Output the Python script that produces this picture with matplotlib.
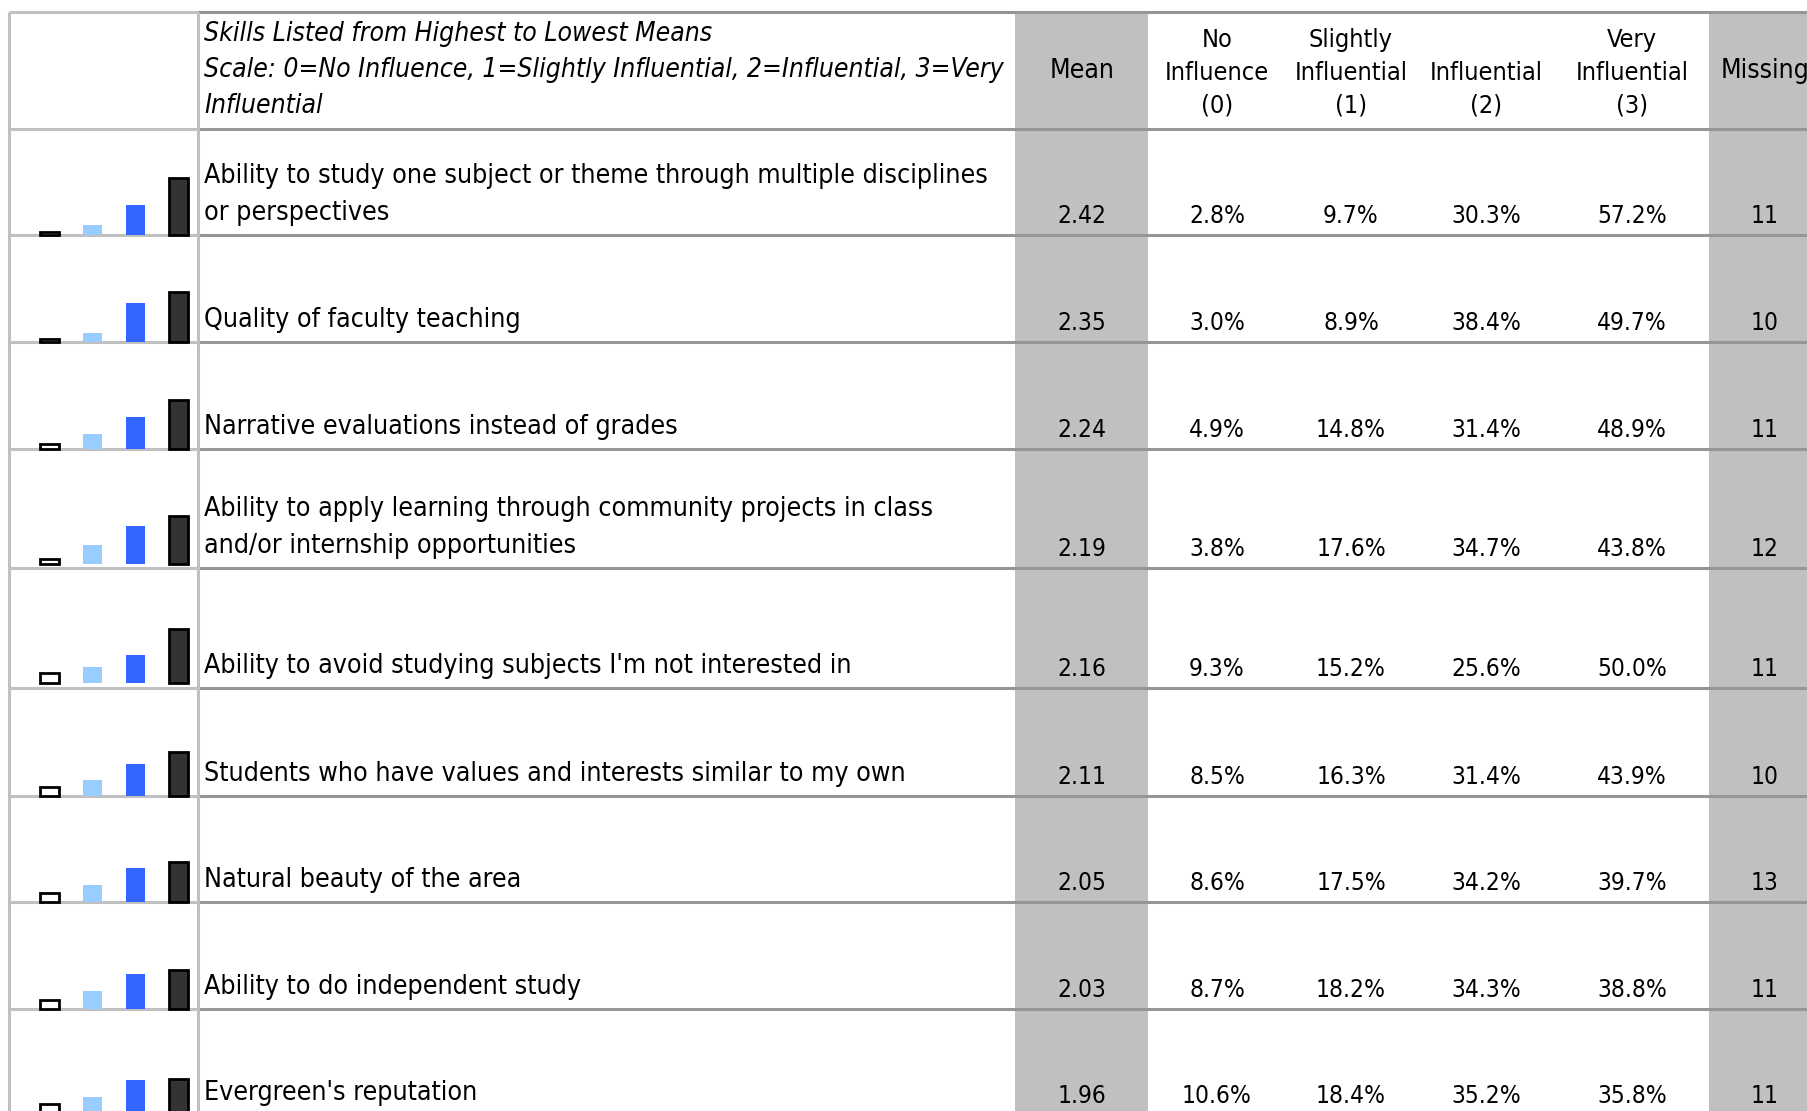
import matplotlib
matplotlib.use("Agg")
import matplotlib.pyplot as plt
from matplotlib import font_manager

skills = [
    "Ability to study one subject or theme through multiple disciplines\nor perspectives",
    "Quality of faculty teaching",
    "Narrative evaluations instead of grades",
    "Ability to apply learning through community projects in class\nand/or internship opportunities",
    "Ability to avoid studying subjects I'm not interested in",
    "Students who have values and interests similar to my own",
    "Natural beauty of the area",
    "Ability to do independent study",
    "Evergreen's reputation",
]
means = [2.42, 2.35, 2.24, 2.19, 2.16, 2.11, 2.05, 2.03, 1.96]
no_infl = [2.8, 3.0, 4.9, 3.8, 9.3, 8.5, 8.6, 8.7, 10.6]
slightly = [9.7, 8.9, 14.8, 17.6, 15.2, 16.3, 17.5, 18.2, 18.4]
influential = [30.3, 38.4, 31.4, 34.7, 25.6, 31.4, 34.2, 34.3, 35.2]
very = [57.2, 49.7, 48.9, 43.8, 50.0, 43.9, 39.7, 38.8, 35.8]
missing = [11, 10, 11, 12, 11, 10, 13, 11, 11]

note_lines = ["Skills Listed from Highest to Lowest Means",
              "Scale: 0=No Influence, 1=Slightly Influential, 2=Influential, 3=Very",
              "Influential"]
col_heads = ["Mean", "No\nInfluence\n(0)", "Slightly\nInfluential\n(1)",
             "Influential\n(2)", "Very\nInfluential\n(3)", "Missing"]

# layout (pixels)
W, H = 1808, 1111
x_left, x_chart = 9, 198
col_edges = [1015, 1148, 1286, 1420, 1554, 1709, 1830]
col_cent = [1082, 1217, 1351, 1486, 1632, 1765]
y_top, y_head = 12, 129
row_h = [106, 107, 107, 119, 120, 108, 106, 107, 106]
bar_x = [50, 93, 136, 179]
bar_w = 19
bar_colors = ["white", "#99ccff", "#3366ff", "#333333"]
bar_edges = ["black", "none", "none", "black"]
light, dark = "#c0c0c0", "#969696"

# condensed face if there is one, the text in the source is narrow
cond = any(f.name == "DejaVu Sans" and f.stretch == "condensed"
           for f in font_manager.fontManager.ttflist)
plt.rcParams["font.family"] = "DejaVu Sans"
if cond:
    plt.rcParams["font.stretch"] = "condensed"
    scale = 1.1
else:
    scale = 1.0
fs_label = 17.45 * scale
fs_note = 17.3 * scale
fs_head = 16.5 * scale
fs_val = 16.0 * scale

fig = plt.figure(figsize=(W / 100, H / 100), dpi=100)
ax = fig.add_axes([0, 0, 1, 1])
ax.set_xlim(0, W)
ax.set_ylim(H, 0)
ax.axis("off")

lw = 2.2

# gray columns
for i in [0, 5]:
    ax.axvspan(col_edges[i], col_edges[i + 1], ymin=0, ymax=1 - y_top / H,
               color=light, lw=0, zorder=0)

def put_lines(x, y_last, text, pitch, fs, **kw):
    lines = text.split("\n")
    for i, line in enumerate(reversed(lines)):
        ax.text(x, y_last - i * pitch, line, va="center", fontsize=fs, zorder=5, **kw)

# header
for i, line in enumerate(note_lines):
    ax.text(204, 34 + i * 36, line, va="center", ha="left", fontsize=fs_note,
            style="italic", zorder=5)
for i, head in enumerate(col_heads):
    if "\n" in head:
        put_lines(col_cent[i], 105, head, 32.5, fs_head, ha="center")
    else:
        put_lines(col_cent[i], 71, head, 32.5, fs_head * 1.05, ha="center")

# horizontal rules
bottoms = []
y = y_head
for h in row_h:
    y += h
    bottoms.append(y)
for y in [y_top, y_head] + bottoms:
    ax.plot([x_left, x_chart], [y, y], color=light, lw=lw, zorder=2,
            solid_capstyle="butt")
    ax.plot([x_chart, W], [y, y], color=dark, lw=lw, zorder=2,
            solid_capstyle="butt")

# vertical rules
for x in [x_left, x_chart]:
    ax.plot([x, x], [y_top, H], color=light, lw=lw, zorder=2,
            solid_capstyle="butt")

# rows
for r in range(len(skills)):
    yb = bottoms[r]
    # the taller rows have their little chart sitting a bit higher
    base = yb - max(0, row_h[r] - 110) * 0.5
    k = 1.0 + (row_h[r] - 106) * 0.006
    pcts = [no_infl[r], slightly[r], influential[r], very[r]]
    hts = [p * k for p in pcts]
    ax.bar(bar_x, hts, width=bar_w, bottom=[base - h for h in hts],
           color=bar_colors, edgecolor=bar_edges, linewidth=2.0, zorder=3)

    put_lines(204, yb - 22, skills[r], 37, fs_label, ha="left")

    vals = ["%.2f" % means[r]] + ["%.1f%%" % p for p in pcts] + [str(missing[r])]
    for c, v in enumerate(vals):
        ax.text(col_cent[c], yb - 19, v, ha="center", va="center",
                fontsize=fs_val, zorder=5)

fig.savefig("out.png", dpi=100)
